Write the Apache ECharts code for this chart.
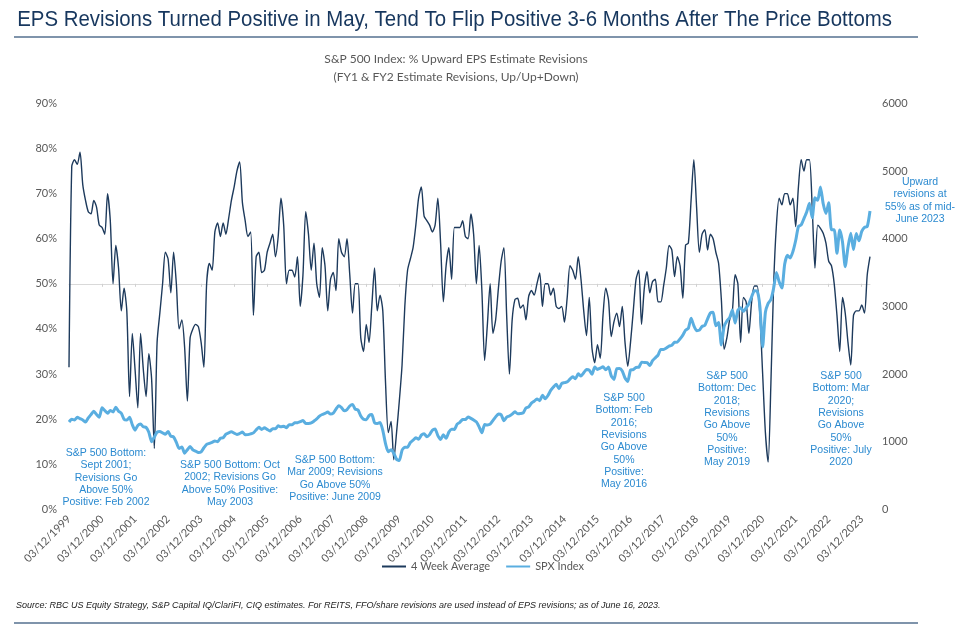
<!DOCTYPE html>
<html>
<head>
<meta charset="utf-8">
<script src="https://cdn.jsdelivr.net/npm/echarts@6/dist/echarts.min.js"></script>
<style>
html,body{margin:0;padding:0;background:#fff;}
#chart{width:960px;height:631px;}
</style>
</head>
<body>
<div id="chart"></div>
<script>
// Monthly observations, Mar 1999 .. Jun 2023
const startYear = 1999, startMonth = 3, endYear = 2023, endMonth = 6;

// % upward EPS estimate revisions, 4 week average (left axis, %)
const eps4wk = [
  31.5, 76, 77.5, 76.5, 79.2, 72, 68.5, 66, 65.5, 68.5,              // 1999 Mar-Dec
  67, 63, 62.5, 61, 70, 64, 50, 58.5, 53.5, 44, 49, 44,              // 2000
  25, 39, 31, 22.5, 39, 31, 25, 34.5, 29, 13.5, 37, 43.5,            // 2001
  50, 57, 55.5, 48, 57, 50, 40, 42, 36, 24, 38, 40,                  // 2002
  41, 40.5, 37, 31.5, 50, 54.5, 53, 61.5, 63.5, 60.5, 63.5, 61,      // 2003
  64.5, 68.5, 71.5, 75, 77, 68, 64, 60.5, 61.5, 43, 56, 57,          // 2004
  52.5, 53, 57, 59, 61, 56, 60.5, 69, 63, 50, 53, 53,                // 2005
  51.5, 56, 45, 52, 66, 61, 53, 59, 50, 47, 58, 54,                  // 2006
  44, 51, 52.5, 48.5, 60, 57, 56, 60, 52, 43.5, 50, 50,              // 2007
  38, 35, 41, 37, 45, 53.5, 44, 47.5, 44, 28, 17, 19.5,              // 2008
  11, 17, 24, 32, 45, 53, 55.5, 58, 63, 69, 71.5, 65,                // 2009
  64, 63, 61.5, 63, 69, 59, 46, 54, 58, 51, 62.5, 62.5,              // 2010
  62.5, 64, 60.5, 60, 65.5, 61, 50, 58.5, 48.5, 33, 41, 50,          // 2011
  39, 42, 49, 55, 58, 43, 30, 42, 46.5, 46.8, 44.6, 45.3,            // 2012
  42, 47.2, 48.5, 47.5, 50, 52.4, 45, 50, 50, 47.5, 49, 45,          // 2013
  44.5, 45, 41.5, 47, 54, 53, 51, 56, 51, 44, 38.5, 47,              // 2014
  35.7, 32.5, 36.5, 33.5, 43, 49, 46.4, 38.3, 41.6, 43.5, 40.5, 45,  // 2015
  37, 31.7, 37, 44, 51, 53, 41, 49, 52.7, 48, 50.5, 51,              // 2016
  46, 46, 49.5, 53.5, 58.5, 57.5, 51.6, 56, 54, 46.8, 58.6, 59,      // 2017
  68.5, 77.5, 67, 57, 61, 62, 57.5, 61, 60, 57, 54.5, 46.5,          // 2018
  35.5, 38, 42, 44, 52, 50, 37, 47, 46, 39, 46, 49.5,                // 2019
  49.5, 43, 30, 17, 10.5, 28, 50, 63, 69, 67.5, 70, 70,              // 2020
  67.5, 69, 62.7, 71.5, 77.5, 75, 77.5, 77.5, 67, 53.5, 63, 62.3,    // 2021
  61.2, 59, 55, 54, 50, 43, 35, 47, 43.5, 37, 32, 43,                // 2022
  44, 44, 45.3, 43.5, 52, 56                                         // 2023 Jan-Jun
];

// S&P 500 index level (right axis)
const spx = [
  1290, 1330, 1320, 1360, 1340, 1320, 1290, 1350, 1400, 1450,        // 1999 Mar-Dec
  1400, 1360, 1500, 1460, 1420, 1460, 1440, 1510, 1450, 1420, 1330, 1320,
  1360, 1250, 1170, 1240, 1260, 1220, 1210, 1140, 1000, 1070, 1140, 1150,
  1130, 1110, 1150, 1080, 1070, 990, 900, 920, 830, 880, 930, 880,
  860, 840, 850, 910, 960, 975, 990, 1008, 1000, 1050, 1058, 1110,
  1131, 1145, 1126, 1107, 1121, 1141, 1102, 1104, 1115, 1130, 1174, 1212,
  1181, 1204, 1181, 1157, 1192, 1191, 1234, 1220, 1229, 1207, 1249, 1248,
  1280, 1281, 1295, 1311, 1270, 1270, 1277, 1304, 1336, 1378, 1401, 1418,
  1438, 1407, 1421, 1482, 1531, 1503, 1455, 1474, 1527, 1549, 1481, 1468,
  1379, 1331, 1323, 1386, 1400, 1280, 1267, 1283, 1166, 969, 850, 880,
  830, 740, 720, 873, 919, 919, 987, 1021, 1057, 1036, 1096, 1115,
  1074, 1104, 1169, 1187, 1089, 1031, 1102, 1049, 1141, 1183, 1181, 1258,
  1286, 1327, 1326, 1364, 1345, 1321, 1292, 1219, 1131, 1253, 1247, 1258,
  1312, 1366, 1408, 1398, 1310, 1362, 1379, 1407, 1441, 1412, 1416, 1426,
  1498, 1515, 1569, 1598, 1631, 1606, 1686, 1633, 1682, 1757, 1806, 1848,
  1783, 1859, 1872, 1884, 1924, 1960, 1931, 2003, 1972, 2018, 2068, 2059,
  1995, 2105, 2068, 2086, 2107, 2063, 2104, 1972, 1920, 2079, 2080, 2044,
  1940, 1890, 2060, 2065, 2097, 2099, 2174, 2171, 2168, 2126, 2199, 2239,
  2279, 2364, 2363, 2384, 2412, 2423, 2470, 2472, 2519, 2575, 2648, 2674,
  2824, 2714, 2641, 2648, 2705, 2718, 2816, 2902, 2914, 2712, 2760, 2430,
  2704, 2784, 2834, 2946, 2752, 2942, 2980, 2926, 2977, 3038, 3141, 3231,
  3226, 3000, 2400, 2912, 3044, 3100, 3271, 3500, 3363, 3270, 3622, 3756,
  3714, 3811, 3973, 4181, 4204, 4298, 4395, 4523, 4308, 4605, 4567, 4766,
  4516, 4374, 4530, 4132, 4132, 3785, 4130, 3955, 3586, 3872, 4080, 3840,
  4077, 3970, 4109, 4169, 4180, 4410
];

const seriesNames = ['4 Week Average', 'SPX Index'];
const leftTicks = {min: 0, max: 90, interval: 10};
const rightTicks = {min: 0, max: 6000, interval: 1000};

const titleText = 'EPS Revisions Turned Positive in May, Tend To Flip Positive 3-6 Months After The Price Bottoms';
const subtitleLines = ['S&P 500 Index: % Upward EPS Estimate Revisions', '(FY1 & FY2 Estimate Revisions, Up/Up+Down)'];
const sourceText = 'Source: RBC US Equity Strategy, S&P Capital IQ/ClariFI, CIQ estimates. For REITS, FFO/share revisions are used instead of EPS revisions; as of June 16, 2023.';
const notes = [
  'S&P 500 Bottom:\nSept 2001;\nRevisions Go\nAbove 50%\nPositive: Feb 2002',
  'S&P 500 Bottom: Oct\n2002; Revisions Go\nAbove 50% Positive:\nMay 2003',
  'S&P 500 Bottom:\nMar 2009; Revisions\nGo Above 50%\nPositive: June 2009',
  'S&P 500\nBottom: Feb\n2016;\nRevisions\nGo Above\n50%\nPositive:\nMay 2016',
  'S&P 500\nBottom: Dec\n2018;\nRevisions\nGo Above\n50%\nPositive:\nMay 2019',
  'S&P 500\nBottom: Mar\n2020;\nRevisions\nGo Above\n50%\nPositive: July\n2020',
  'Upward\nrevisions at\n55% as of mid-\nJune 2023'
];

// categories: one per month, labelled mm/12/yyyy
const categories = [];
for (let y = startYear, m = startMonth; y < endYear || (y === endYear && m <= endMonth); ) {
  categories.push(String(m).padStart(2, '0') + '/12/' + y);
  m++; if (m > 12) { m = 1; y++; }
}

const notePos = [[106, 447], [230, 459], [335, 454], [624, 392], [727, 370], [841, 370], [920, 176]];
const noteColor = '#2b8ad0';
const grey = '#595959';

const chart = echarts.init(document.getElementById('chart'), null, {renderer: 'canvas'});
const graphics = [
  {type: 'text', x: 16, y: 20, scaleX: 0.928, originX: 16, originY: 20,
    style: {text: titleText, font: '22px "Liberation Sans", Arial, sans-serif', fill: '#17375e', verticalAlign: 'middle'}},
  {type: 'line', shape: {x1: 14, y1: 37, x2: 918, y2: 37}, style: {stroke: '#55718f', lineWidth: 1.5}},
  {type: 'line', shape: {x1: 14, y1: 623, x2: 918, y2: 623}, style: {stroke: '#55718f', lineWidth: 1.5}},
  {type: 'text', x: 456, y: 59, style: {text: subtitleLines[0], font: '12px Lato, sans-serif', fill: grey, align: 'center', verticalAlign: 'middle'}},
  {type: 'text', x: 456, y: 77, style: {text: subtitleLines[1], font: '12px Lato, sans-serif', fill: grey, align: 'center', verticalAlign: 'middle'}},
  {type: 'text', x: 16, y: 605, style: {text: sourceText, font: 'italic 9px "Liberation Sans Narrow", "Arial Narrow", sans-serif', fill: '#222', verticalAlign: 'middle'}}
];
notes.forEach((t, k) => {
  graphics.push({type: 'text', x: notePos[k][0], y: notePos[k][1],
    style: {text: t, font: '10.5px "Liberation Sans", Arial, sans-serif', lineHeight: 12.3, fill: noteColor, align: 'center', verticalAlign: 'top'}});
});

chart.setOption({
  animation: false,
  backgroundColor: '#fff',
  grid: {left: 69, right: 90, top: 103.4, bottom: 121.7},
  legend: {
    data: seriesNames, left: 377, top: 556, icon: 'rect', itemWidth: 24, itemHeight: 2, itemGap: 16,
    textStyle: {color: grey, fontSize: 11, fontFamily: 'Lato'}
  },
  xAxis: [
    {
      type: 'category', data: categories, boundaryGap: false, position: 'bottom',
      axisLine: {show: false}, axisTick: {show: false},
      axisLabel: {interval: 11, rotate: 45, color: grey, fontSize: 11, fontFamily: 'Lato', margin: 8}
    },
    {
      type: 'category', data: categories, boundaryGap: false, position: 'bottom', offset: -225.5,
      axisLine: {show: true, onZero: false, lineStyle: {color: '#d9d9d9', width: 1}},
      axisTick: {show: true, interval: 11, length: 3, lineStyle: {color: '#d0d0d0'}},
      axisLabel: {show: false}
    }
  ],
  yAxis: [
    {
      type: 'value', position: 'left', min: leftTicks.min, max: leftTicks.max, interval: leftTicks.interval,
      axisLabel: {formatter: '{value}%', color: grey, fontSize: 11, fontFamily: 'Lato', margin: 12},
      axisLine: {show: false}, axisTick: {show: false}, splitLine: {show: false}
    },
    {
      type: 'value', position: 'right', min: rightTicks.min, max: rightTicks.max, interval: rightTicks.interval,
      axisLabel: {formatter: v => String(v), color: grey, fontSize: 11, fontFamily: 'Lato', margin: 12},
      axisLine: {show: false}, axisTick: {show: false}, splitLine: {show: false}
    }
  ],
  series: [
    {name: seriesNames[0], type: 'line', data: eps4wk, yAxisIndex: 0, xAxisIndex: 0, showSymbol: false, smooth: 0.25,
      lineStyle: {color: '#1d3a5c', width: 1.4}, itemStyle: {color: '#1d3a5c'}},
    {name: seriesNames[1], type: 'line', data: spx, yAxisIndex: 1, xAxisIndex: 0, showSymbol: false, smooth: 0.2,
      lineStyle: {color: '#5aaee0', width: 3}, itemStyle: {color: '#5aaee0'}}
  ],
  graphic: graphics
});
</script>
</body>
</html>
